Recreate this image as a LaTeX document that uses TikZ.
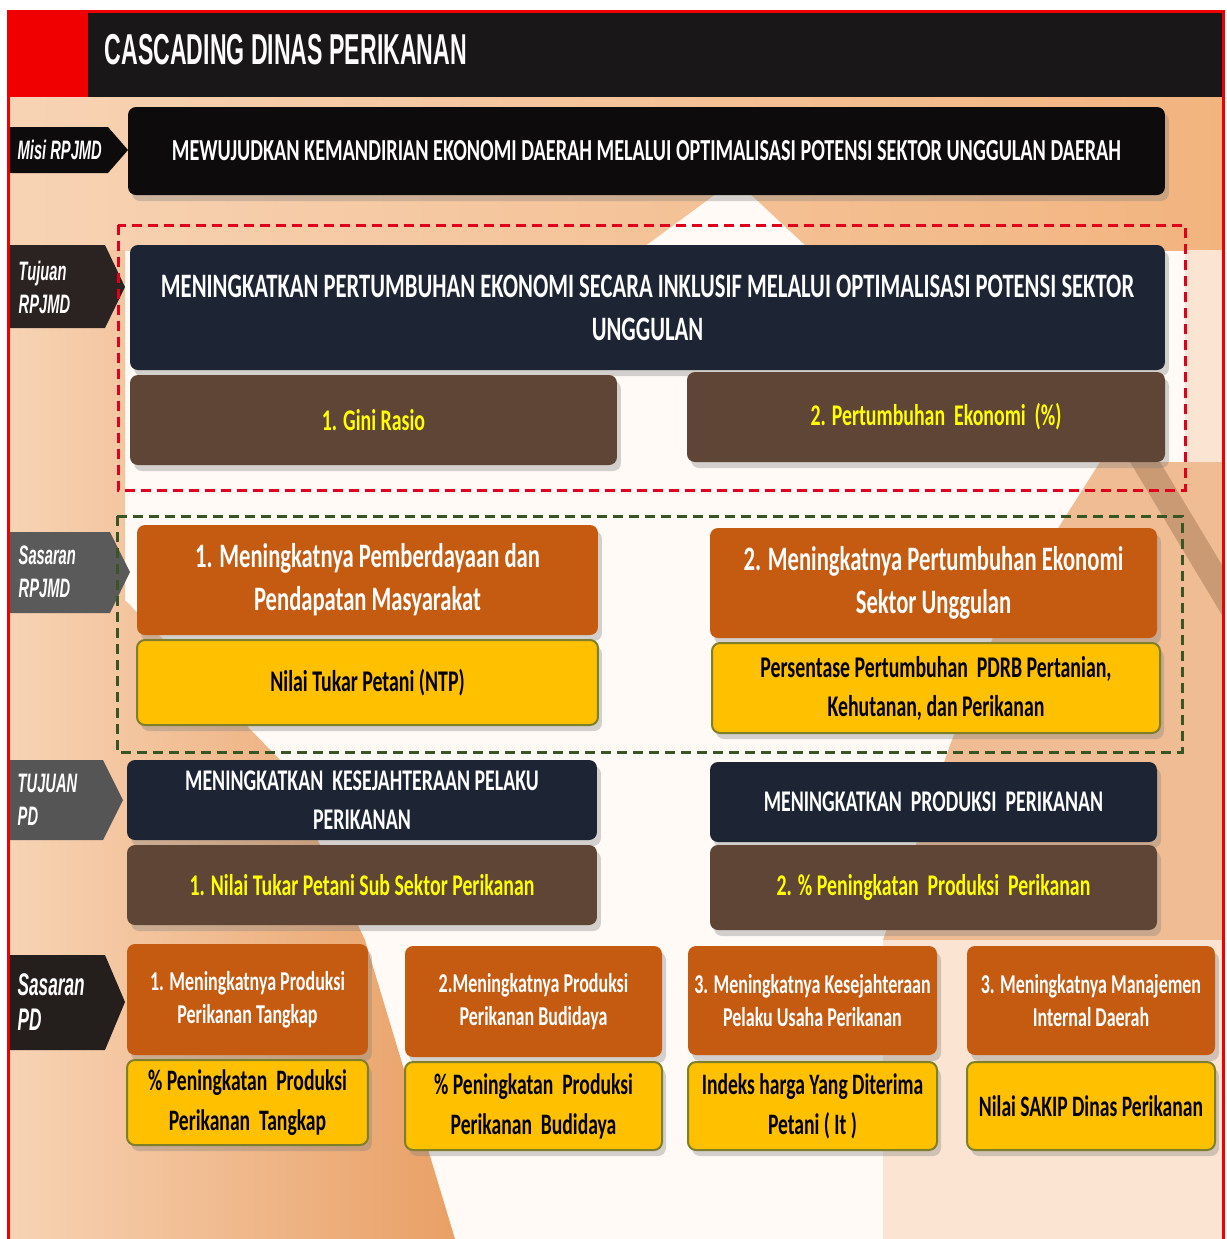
\documentclass[tikz,border=0pt]{standalone}
\usepackage{fontspec}
\setmainfont{Carlito}[FakeStretch=0.66]
\newfontfamily\titlefont{Liberation Sans}[FakeStretch=0.535]
\newfontfamily\tabfont{Liberation Sans}[FakeStretch=0.55]
\usepackage{tikz}
\usetikzlibrary{shadows}

\definecolor{framered}{HTML}{F00000}
\definecolor{titleblack}{HTML}{1A1718}
\definecolor{misiblack}{HTML}{0D0B0B}
\definecolor{navyfill}{HTML}{1D2433}
\definecolor{brownfill}{HTML}{5E4536}
\definecolor{orangefill}{HTML}{C55A11}
\definecolor{yellowfill}{HTML}{FFC000}
\definecolor{yellowedge}{HTML}{7F7F2A}
\definecolor{yellowtext}{HTML}{FFFF00}
\definecolor{dashred}{HTML}{E0001B}
\definecolor{dashgreen}{HTML}{375623}
\definecolor{tabdark}{HTML}{2A2322}
\definecolor{tabgray}{HTML}{5A5A5A}
\definecolor{bgbase}{HTML}{FFFAF6}
\definecolor{bglight}{HTML}{FBE4D2}
\definecolor{bgpeach}{HTML}{F7D3B4}
\definecolor{bgorange}{HTML}{F2B47F}
\definecolor{bgtan}{HTML}{E9A066}
\definecolor{bgstripe}{HTML}{C99A73}

\tikzset{
  cellbox/.style={rounded corners=0.8mm, inner sep=0pt, align=center,
    drop shadow={shadow xshift=0.4mm, shadow yshift=-0.6mm, opacity=0.35}},
  blackbox/.style={cellbox, fill=misiblack, text=white},
  navybox/.style={cellbox, fill=navyfill, text=white},
  brownbox/.style={cellbox, fill=brownfill, text=yellowtext},
  orangebox/.style={cellbox, fill=orangefill, text=white},
  yellowbox/.style={cellbox, fill=yellowfill, draw=yellowedge, line width=0.2mm, text=black},
  fhuge/.style={font=\bfseries\fontsize{9.75}{12.2}\selectfont},
  fmisi/.style={font=\bfseries\fontsize{8.7}{12}\selectfont},
  fbase/.style={font=\bfseries\fontsize{8.55}{11.1}\selectfont},
  fsmall/.style={font=\bfseries\fontsize{7.75}{9.4}\selectfont},
  fcell/.style={font=\bfseries\fontsize{8.45}{11.4}\selectfont},
  tabtext/.style={text=white, anchor=west, align=left, inner sep=0pt,
    font=\tabfont\bfseries\itshape\fontsize{7.6}{9.4}\selectfont},
  dashbox/.style={line width=0.3mm, dash pattern=on 1mm off 0.6mm},
}

\begin{document}
\begin{tikzpicture}[x=0.1mm,y=-0.1mm]
\useasboundingbox (0,0) rectangle (1227,1239);

% Background
\fill[bgbase] (10,97) rectangle (1222,1239);
\shade[left color=bgpeach, right color=bgorange] (10,97) rectangle (1222,250);
\fill[bgbase] (640,250) -- (735,180) -- (810,250) -- cycle;
\shade[left color=bgpeach, right color=bgtan] (10,250) -- (125,250) -- (125,600) -- (280,760)
  -- (365,940) -- (455,1239) -- (10,1239) -- cycle;
\fill[bglight] (1185,250) rectangle (1222,462);
\fill[bgtan!70] (1222,462) -- (1100,462) -- (1000,620) -- (950,745) -- (883,940)
  -- (883,1239) -- (1222,1239) -- cycle;
\fill[bglight] (883,940) rectangle (1222,1239);
\fill[bgstripe] (1130,462) -- (1160,462) -- (1222,565) -- (1222,615) -- cycle;

% Frame and title
\fill[framered] (10,12) rectangle (88,97);
\fill[titleblack] (88,12) rectangle (1222,97);
\draw[framered, line width=0.3mm] (8.5,1239) -- (8.5,11.5) -- (1223.5,11.5) -- (1223.5,1239);
\node[text=white, anchor=west, inner sep=0pt, font=\titlefont\bfseries\fontsize{12.3}{14}\selectfont]
  (title) at (104,50) {CASCADING DINAS PERIKANAN};

% Row tabs
\fill[misiblack] (10,127) -- (108,127) -- (128,150) -- (108,173) -- (10,173) -- cycle;
\node[tabtext] (tabmisi) at (17,150) {Misi RPJMD};
\fill[tabdark] (10,245) -- (105,245) -- (125,287) -- (105,328) -- (10,328) -- cycle;
\node[tabtext] (tabtujuan) at (18,287) {Tujuan\\RPJMD};
\fill[tabgray] (10,532) -- (110,532) -- (130,572) -- (110,613) -- (10,613) -- cycle;
\node[tabtext] (tabsasaran) at (18,572) {Sasaran\\RPJMD};
\fill[tabgray!95!black] (10,760) -- (103,760) -- (123,800) -- (103,840) -- (10,840) -- cycle;
\node[tabtext] (tabtujuanpd) at (17,800) {TUJUAN\\PD};
\fill[tabdark!85!black] (10,955) -- (105,955) -- (125,1002) -- (105,1050) -- (10,1050) -- cycle;
\node[tabtext, font=\tabfont\bfseries\itshape\fontsize{8.9}{10}\selectfont] (tabsasaranpd) at (17,1002) {Sasaran\\PD};

% Misi RPJMD
\node[blackbox, fmisi, minimum width=103.7mm, minimum height=8.8mm] (misi) at (646.5,151)
  {MEWUJUDKAN KEMANDIRIAN EKONOMI DAERAH MELALUI OPTIMALISASI POTENSI SEKTOR UNGGULAN DAERAH};

% Tujuan RPJMD
\draw[dashred, dashbox] (118,225) rectangle (1185,490);
\node[navybox, fhuge, minimum width=103.5mm, minimum height=12.5mm] (tujuan) at (647.5,307.5)
  {MENINGKATKAN PERTUMBUHAN EKONOMI SECARA INKLUSIF MELALUI OPTIMALISASI POTENSI SEKTOR\\UNGGULAN};
\node[brownbox, fbase, minimum width=48.7mm, minimum height=9mm] (gini) at (373.5,420) {1. Gini Rasio};
\node[brownbox, fbase, minimum width=47.8mm, minimum height=9mm] (ekonomi) at (926,417)
  {\hspace*{2mm}2. Pertumbuhan\ \ Ekonomi\ \ (\%)};

% Sasaran RPJMD
\draw[dashgreen, dashbox] (117,516) rectangle (1182,752);
\node[orangebox, fhuge, minimum width=46.1mm, minimum height=11mm] (sasaran1) at (367.5,580)
  {1. Meningkatnya Pemberdayaan dan\\Pendapatan Masyarakat};
\node[yellowbox, fbase, minimum width=46.1mm, minimum height=8.5mm] (ntp) at (367.5,682.5)
  {Nilai Tukar Petani (NTP)};
\node[orangebox, fhuge, minimum width=44.7mm, minimum height=11mm] (sasaran2) at (933.5,583)
  {2. Meningkatnya Pertumbuhan Ekonomi\\Sektor Unggulan};
\node[yellowbox, fbase, minimum width=44.8mm, minimum height=9mm] (pdrb) at (936,688)
  {Persentase Pertumbuhan\ \ PDRB Pertanian,\\Kehutanan, dan Perikanan};

% Tujuan PD
\node[navybox, fbase, minimum width=47mm, minimum height=8mm] (tujuanpd1) at (362,800)
  {MENINGKATKAN\ \ KESEJAHTERAAN PELAKU\\PERIKANAN};
\node[brownbox, fbase, minimum width=47mm, minimum height=8mm] (ntpsub) at (362,885)
  {1. Nilai Tukar Petani Sub Sektor Perikanan};
\node[navybox, fbase, minimum width=44.7mm, minimum height=8mm] (tujuanpd2) at (933.5,802)
  {MENINGKATKAN\ \ PRODUKSI\ \ PERIKANAN};
\node[brownbox, fbase, minimum width=44.7mm, minimum height=8.5mm] (produksi) at (933.5,887.5)
  {2. \% Peningkatan\ \ Produksi\ \ Perikanan};

% Sasaran PD
\node[orangebox, fsmall, minimum width=24.1mm, minimum height=11.1mm] (tangkap) at (247.5,999.5)
  {1. Meningkatnya Produksi\\Perikanan Tangkap};
\node[yellowbox, fcell, minimum width=24.1mm, minimum height=8.5mm] (tangkapind) at (247.5,1102.5)
  {\% Peningkatan\ \ Produksi\\Perikanan\ \ Tangkap};
\node[orangebox, fsmall, minimum width=25.7mm, minimum height=11.1mm] (budidaya) at (533.5,1001.5)
  {2.Meningkatnya Produksi\\Perikanan Budidaya};
\node[yellowbox, fcell, minimum width=25.7mm, minimum height=8.8mm] (budidayaind) at (533.5,1106)
  {\% Peningkatan\ \ Produksi\\Perikanan\ \ Budidaya};
\node[orangebox, fsmall, minimum width=24.9mm, minimum height=10.9mm] (pelaku) at (812.5,1000.5)
  {3. Meningkatnya Kesejahteraan\\Pelaku Usaha Perikanan};
\node[yellowbox, fcell, minimum width=24.9mm, minimum height=8.8mm] (pelakuind) at (812.5,1106)
  {Indeks harga Yang Diterima\\Petani ( It )};
\node[orangebox, fsmall, minimum width=24.8mm, minimum height=10.9mm] (manajemen) at (1091,1000.5)
  {3. Meningkatnya Manajemen\\Internal Daerah};
\node[yellowbox, fcell, minimum width=24.8mm, minimum height=8.8mm] (sakip) at (1091,1106)
  {Nilai SAKIP Dinas Perikanan};
\end{tikzpicture}
\end{document}
